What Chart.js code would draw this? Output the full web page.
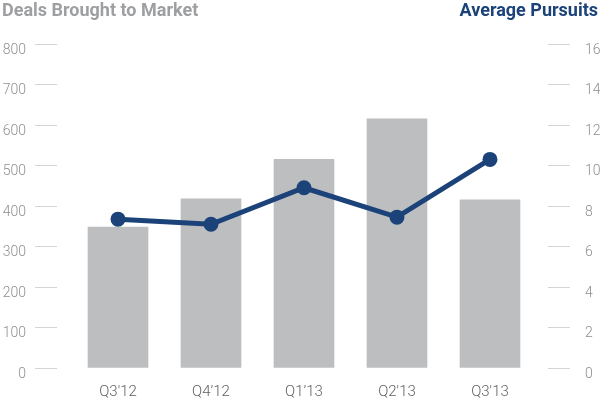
<!DOCTYPE html>
<html>
<head>
<meta charset="utf-8">
<script src="https://cdn.jsdelivr.net/npm/chart.js@4.4.1/dist/chart.umd.min.js"></script>
<style>
  html, body { margin: 0; padding: 0; background: #fff; overflow: hidden; }
  #wrap { position: relative; width: 600px; height: 399px; overflow: hidden; }
  .title { position: absolute; top: -1px; font: bold 18px Roboto, sans-serif; }
  #leftTitle { left: 2px; color: #9d9fa2; }
  #rightTitle { right: 2px; color: #1b4279; }
</style>
</head>
<body>
<div id="wrap">
  <canvas id="chart" width="600" height="412"></canvas>
  <div class="title" id="leftTitle">Deals Brought to Market</div>
  <div class="title" id="rightTitle">Average Pursuits</div>
</div>
<script>
// Datos
const quarters = ['Q3\'12', 'Q4’12', 'Q1’13', 'Q2\'13', 'Q3\'13'];
const deals = [348, 418, 515, 615, 415];
const pursuits = [7.35, 7.1, 8.9, 7.45, 10.3];

const barColor = '#bdbec0';
const lineColor = '#1b4279';
const tickFont = { family: 'Roboto', size: 14, weight: '300' };

const ctx = document.getElementById('chart').getContext('2d');
new Chart(ctx, {
  data: {
    datasets: [
      {
        type: 'line',
        data: pursuits.map((v, i) => ({ x: i, y: v })),
        yAxisID: 'yRight',
        borderColor: lineColor,
        backgroundColor: lineColor,
        borderWidth: 5,
        pointRadius: 5,
        tension: 0,
        order: 0,
      },
      {
        type: 'bar',
        data: deals.map((v, i) => ({ x: i, y: v })),
        yAxisID: 'yLeft',
        backgroundColor: barColor,
        barThickness: 60,
        order: 1,
      },
    ],
  },
  options: {
    responsive: false,
    animation: false,
    layout: { padding: { top: 44, left: 2, right: 0, bottom: 4 } },
    plugins: { legend: { display: false }, tooltip: { enabled: false } },
    scales: {
      x: {
        type: 'linear',
        offset: false,
        min: -0.656,
        max: 4.624,
        grid: { display: false },
        border: { display: false },
        afterBuildTicks: scale => {
          scale.ticks = quarters.map((q, i) => ({ value: i }));
        },
        ticks: {
          autoSkip: false,
          maxRotation: 0,
          padding: 7,
          color: '#5f6062',
          font: { family: 'Roboto', size: 15, weight: '300' },
          callback: v => quarters[v],
        },
      },
      yLeft: {
        position: 'left',
        min: 0,
        max: 800,
        afterFit: scale => { scale.width = 55; },
        ticks: { stepSize: 100, color: '#8e8f91', font: tickFont, padding: 9, labelOffset: 6 },
        grid: { drawOnChartArea: false, tickLength: 22, color: '#d4d4d4' },
        border: { display: false },
      },
      yRight: {
        position: 'right',
        min: 0,
        max: 16,
        afterFit: scale => { scale.width = 52; },
        ticks: { stepSize: 2, color: '#8e8f91', font: tickFont, padding: 15, labelOffset: 6 },
        grid: { drawOnChartArea: false, tickLength: 22, color: '#d4d4d4' },
        border: { display: false },
      },
    },
  },
});
</script>
</body>
</html>
